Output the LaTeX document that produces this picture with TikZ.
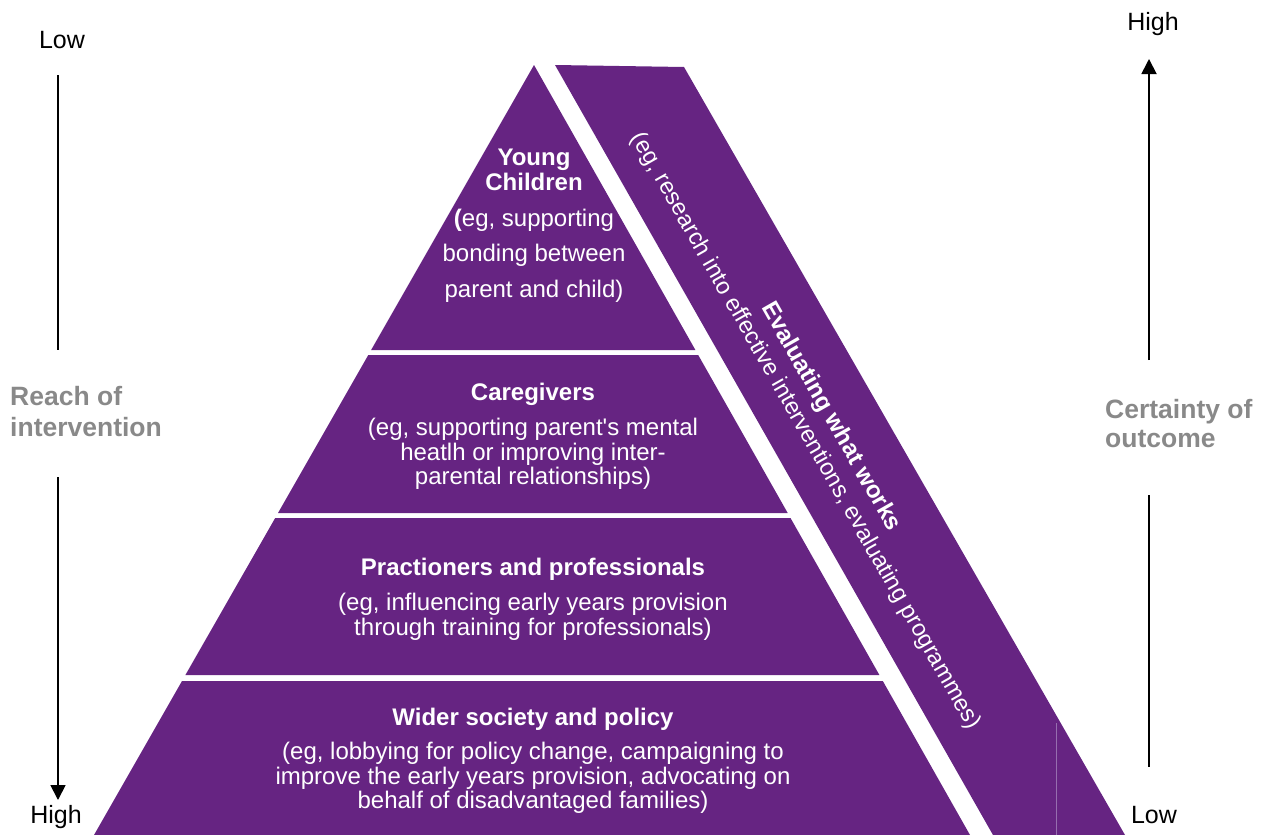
\documentclass[tikz,border=0pt]{standalone}
\usepackage{fontspec}
\setmainfont{Liberation Sans}[Ligatures=TeXOff]
\usetikzlibrary{arrows.meta}
\definecolor{pyr}{RGB}{102,36,130}
\definecolor{pyrline}{RGB}{150,110,175}
\definecolor{lbl}{RGB}{137,137,137}
\begin{document}
\begin{tikzpicture}[x=1pt,y=-1pt,
  layer/.style={fill=pyr},
  head/.style={font=\fontsize{24}{25}\selectfont\bfseries, text=white, anchor=base, inner sep=0pt},
  body/.style={font=\fontsize{24}{25}\selectfont, text=white, anchor=base, inner sep=0pt},
  bandtext/.style={font=\fontsize{23.5}{29}\selectfont, text=white, align=center, inner sep=0pt},
  endlabel/.style={font=\fontsize{25}{26}\selectfont, text=black, anchor=base, inner sep=0pt},
  sidelabel/.style={font=\fontsize{26.5}{31}\selectfont\bfseries, text=lbl, anchor=base west, inner sep=0pt},
  axis/.style={line width=1.8pt, draw=black},
  axistip/.style={axis, -{Triangle[width=15pt,length=15pt]}}
]
\useasboundingbox (0,0) rectangle (1266,835);

% pyramid layers
\fill[layer] (534,65) -- (695.4,350) -- (371.1,350) -- cycle;
\fill[layer] (368.3,355) -- (698.2,355) -- (787.7,513) -- (278.0,513) -- cycle;
\fill[layer] (275.2,518) -- (790.5,518) -- (879.4,675) -- (185.4,675) -- cycle;
\fill[layer] (182.0,681) -- (882.8,681) -- (970,835) -- (94,835) -- cycle;

% slanted band along the right side
\fill[layer] (555,65) -- (684,67) -- (1125,835) -- (993,835) -- cycle;
\draw[pyrline, line width=0.8pt] (1056,723) -- (1056,835);

% layer texts
\node[head] (yc1) at (534,165) {Young};
\node[head] (yc2) at (534,190) {Children};
\node[body] (yc3) at (534,226) {{\bfseries (}eg, supporting};
\node[body] (yc4) at (534,261.5) {bonding between};
\node[body] (yc5) at (534,297) {parent and child)};

\node[head] (cg1) at (533,400) {Caregivers};
\node[body] (cg2) at (533,435) {(eg, supporting parent's mental};
\node[body] (cg3) at (533,460) {heatlh or improving inter-};
\node[body] (cg4) at (533,484) {parental relationships)};

\node[head] (pp1) at (533,575) {Practioners and professionals};
\node[body] (pp2) at (533,610) {(eg, influencing early years provision};
\node[body] (pp3) at (533,635) {through training for professionals)};

\node[head] (ws1) at (533,725) {Wider society and policy};
\node[body] (ws2) at (533,759) {(eg, lobbying for policy change, campaigning to};
\node[body] (ws3) at (533,784) {improve the early years provision, advocating on};
\node[body] (ws4) at (533,808) {behalf of disadvantaged families)};

% band text
\node[bandtext, rotate=-60.3] (eval) at (818,424)
  {\textbf{\fontsize{24}{29}\selectfont Evaluating what works}\\(eg, research into effective interventions, evaluating programmes)};

% left scale: reach of intervention
\node[endlabel] (lowL) at (62,48) {Low};
\node[endlabel] (highL) at (56,823) {High};
\node[sidelabel] (reach1) at (10,405) {Reach of};
\node[sidelabel] (reach2) at (10,436) {intervention};
\coordinate (la1) at (58,75);
\coordinate (la2) at (58,350);
\coordinate (lb1) at (58,477);
\coordinate (lb2) at (58,800);
\draw[axis] (la1) -- (la2);
\draw[axistip] (lb1) -- (lb2);

% right scale: certainty of outcome
\node[endlabel] (highR) at (1153,30) {High};
\node[endlabel] (lowR) at (1154,823) {Low};
\node[sidelabel] (cert1) at (1105,418) {Certainty of};
\node[sidelabel] (cert2) at (1105,447) {outcome};
\coordinate (ra1) at (1149,360);
\coordinate (ra2) at (1149,59);
\coordinate (rb1) at (1149,495);
\coordinate (rb2) at (1149,767);
\draw[axistip] (ra1) -- (ra2);
\draw[axis] (rb1) -- (rb2);
\end{tikzpicture}
\end{document}
